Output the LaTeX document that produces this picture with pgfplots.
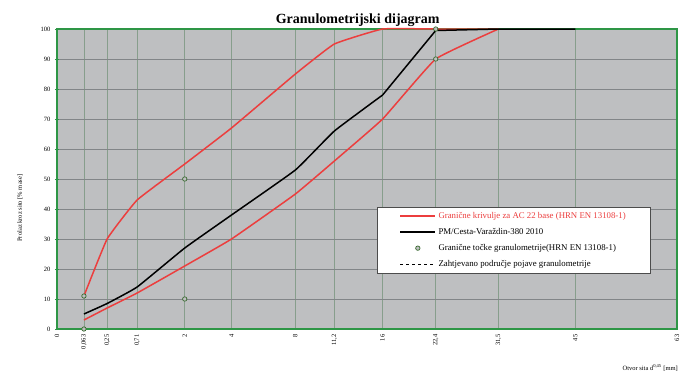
\documentclass[border=0pt]{standalone}
\usepackage{pgfplots}
\pgfplotsset{compat=1.18}
\usepackage{fontspec}
\setmainfont{Liberation Serif}
\definecolor{frame}{RGB}{46,150,70}
\definecolor{plotbg}{RGB}{190,191,193}
\definecolor{hgrid}{RGB}{130,133,136}
\definecolor{vgrid}{RGB}{135,158,140}
\definecolor{limred}{RGB}{236,62,62}
\definecolor{ptgreen}{RGB}{55,105,45}

\pgfplotstableread{
x y
0.288 11
0.536 30
0.857 43
1.366 55
1.866 67
2.549 85
2.966 95
3.482 100
4.050 100
4.720 100
}\upperlim
\pgfplotstableread{
x y
0.288 3
0.536 7
0.857 12
1.366 21
1.866 30
2.549 45
2.966 56
3.482 70
4.050 90
4.720 100
}\lowerlim
\pgfplotstableread{
x y
0.288 5
0.536 8.5
0.857 14
1.366 27
1.866 38
2.549 53
2.966 66
3.482 78
}\pmcurve
\pgfplotstableread{
x y
3.482 78
4.050 99.5
4.720 100
5.543 100
}\pmtop
\pgfplotstableread{
x y
0.288 0
0.288 11
1.366 10
1.366 50
4.050 90
4.050 100
}\limpts

\begin{document}
\begin{tikzpicture}
\begin{axis}[
  at={(0pt,0pt)}, anchor=south west,
  scale only axis, width=620pt, height=300pt,
  xmin=0, xmax=6.63, ymin=0, ymax=100,
  axis background/.style={fill=plotbg},
  axis line style={frame, line width=1.8pt},
  xtick={0,0.288,0.536,0.857,1.366,1.866,2.549,2.966,3.482,4.050,4.720,5.543,6.63},
  xticklabels={0,{0,063},{0,25},{0,71},2,4,8,{11,2},16,{22,4},{31,5},45,63},
  ytick={0,10,...,100},
  xmajorgrids, ymajorgrids,
  x grid style={vgrid, line width=0.6pt},
  y grid style={hgrid, line width=0.6pt},
  tick pos=left,
  xtick style={draw=none},
  ytick style={frame, line width=1pt},
  major tick length=4pt, tick align=center,
  /pgf/number format/assume math mode=true,
  tick label style={font=\fontsize{6.5}{7.5}\selectfont},
  xticklabel style={rotate=90, anchor=east},
  yticklabel style={xshift=-1pt},
  legend style={at={(0.516,0.407)}, anchor=north west, draw=gray!60!black, fill=white,
    font=\fontsize{8.8}{10}\selectfont, inner xsep=22pt, inner ysep=3pt, row sep=4.5pt},
  legend cell align=left,
  clip=false,
]
\addplot[limred, line width=1.5pt, smooth, tension=0.2,
  legend image code/.code={\draw[limred, line width=2.4pt] (0pt,0pt) -- (35pt,0pt);}]
  table[x=x,y=y]{\upperlim};
\addlegendentry{\textcolor{limred}{Granične krivulje za  AC 22 base (HRN EN 13108-1)}}
\addplot[limred, line width=1.5pt, smooth, tension=0.2, forget plot] table[x=x,y=y]{\lowerlim};
\addplot[black, line width=1.5pt, smooth, tension=0.2,
  legend image code/.code={\draw[black, line width=2.4pt] (0pt,0pt) -- (35pt,0pt);}]
  table[x=x,y=y]{\pmcurve};
\addlegendentry{PM/Cesta-Varaždin-380 2010}
\addplot[black, line width=1.5pt, forget plot, line join=round] table[x=x,y=y]{\pmtop};
\addplot[only marks, mark=*, mark size=2.2pt, mark options={draw=ptgreen, fill=plotbg, line width=0.7pt},
  legend image code/.code={\path[draw=none, fill=none] (0pt,-2pt) rectangle (35pt,2pt); \draw[ptgreen, fill=plotbg, line width=0.7pt] (17.5pt,0pt) circle (2.2pt);}]
  table[x=x,y=y]{\limpts};
\addlegendentry{Granične točke granulometrije(HRN EN 13108-1)}
\addlegendimage{legend image code/.code={\draw[black, dashed, line width=0.6pt] (0pt,0pt) -- (35pt,0pt);}}
\addlegendentry{Zahtjevano područje pojave granulometrije}

\node[font=\bfseries\fontsize{14}{16}\selectfont, anchor=south, inner sep=0pt]
  at ([yshift=2pt]rel axis cs:0.485,1) {Granulometrijski dijagram};
\node[font=\fontsize{6.5}{7.5}\selectfont, rotate=90, anchor=center, inner sep=0pt]
  at ([xshift=-37pt]rel axis cs:0,0.403) {Prolaz kroz sito [\% mase]};
\node[font=\fontsize{6.5}{7.5}\selectfont, anchor=east, inner sep=0pt]
  at ([xshift=1pt, yshift=-39pt]rel axis cs:1,0) {Otvor sita d\textsuperscript{0,45} [mm]};
\end{axis}
\path (-57pt,-47pt) rectangle (633pt,329pt);
\end{tikzpicture}
\end{document}
